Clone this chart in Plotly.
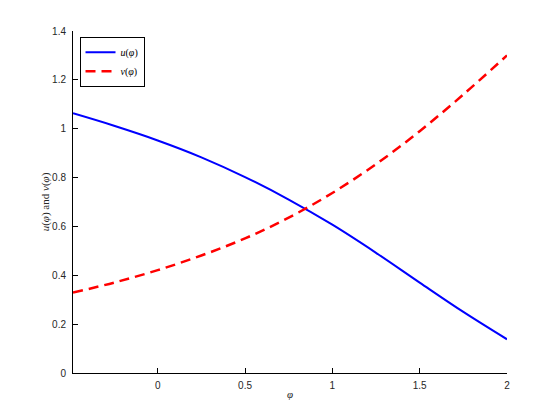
import plotly.graph_objects as go

# values
phi = [-0.485, -0.25, 0.0, 0.25, 0.5, 0.75, 1.0, 1.25, 1.5, 1.75, 2.0]
u_vals = [1.063, 1.012, 0.952, 0.883, 0.802, 0.71, 0.607, 0.492, 0.37, 0.25, 0.138]
v_vals = [0.329, 0.370, 0.421, 0.481, 0.551, 0.636, 0.737, 0.855, 0.990, 1.140, 1.300]

x_ticks = [0, 0.5, 1, 1.5, 2]
y_ticks = [0, 0.2, 0.4, 0.6, 0.8, 1.0, 1.2, 1.4]

serif = "Liberation Serif, DejaVu Serif, serif"
sans = "Liberation Sans, Arial, sans-serif"

fig = go.Figure()
fig.add_trace(go.Scatter(x=phi, y=u_vals, mode="lines", line_shape="spline",
                         name="<i>u</i>(<i>φ</i>)",
                         line=dict(color="#0000ff", width=2)))
fig.add_trace(go.Scatter(x=phi, y=v_vals, mode="lines", line_shape="spline",
                         name="<i>v</i>(<i>φ</i>)",
                         line=dict(color="#ff0000", width=2.5, dash="10px,6px")))

axis_common = dict(showgrid=False, zeroline=False, showline=True, linecolor="#000000",
                   linewidth=1, mirror=False, ticks="inside", ticklen=5, automargin=False,
                   tickcolor="#000000", tickfont=dict(family=sans, size=10, color="#262626"))

fig.update_xaxes(range=[-0.485, 2.0], tickvals=x_ticks, ticklabelstandoff=3,
                 title=dict(text="<i>φ</i>", font=dict(family=serif, size=11, color="#262626"),
                            standoff=0),
                 **axis_common)
fig.update_yaxes(range=[0, 1.4], tickvals=y_ticks, ticklabelstandoff=4,
                 title=dict(text="<i>u</i>(<i>φ</i>) and <i>v</i>(<i>φ</i>)",
                            font=dict(family=serif, size=11, color="#262626"), standoff=0),
                 **axis_common)

# the page body adds an 8px offset, so margins are trimmed by that amount
fig.update_layout(
    width=552, height=412,
    margin=dict(l=65, r=53, t=23, b=47),
    paper_bgcolor="white", plot_bgcolor="white",
    showlegend=True,
    legend=dict(x=0.015, y=0.983, xanchor="left", yanchor="top",
                bordercolor="#000000", borderwidth=1, bgcolor="white",
                font=dict(family=serif, size=10, color="#000000"),
                itemwidth=30, tracegroupgap=0),
)

fig.write_html("out.html")
